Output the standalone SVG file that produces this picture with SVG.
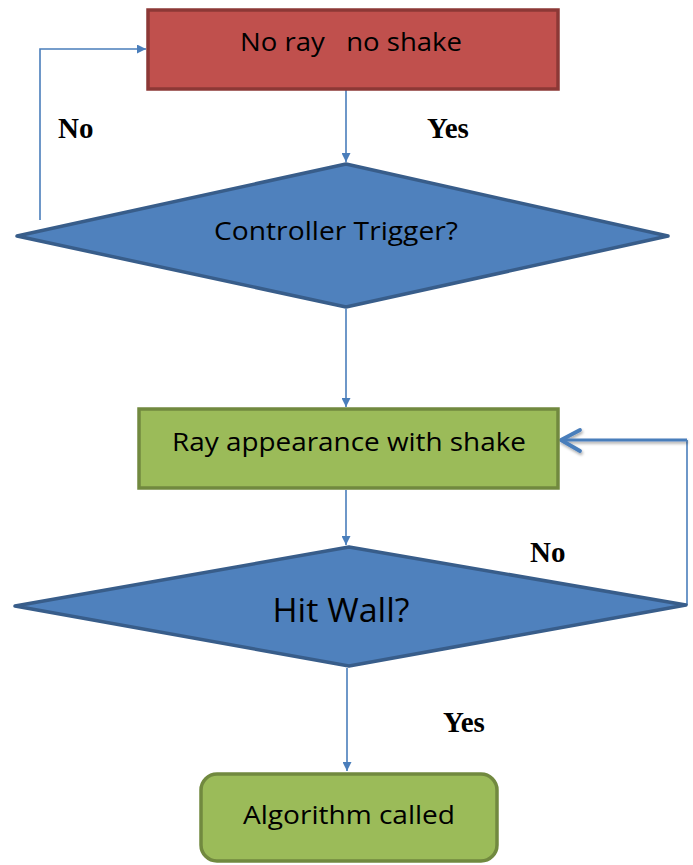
<svg xmlns="http://www.w3.org/2000/svg" width="693" height="865" viewBox="0 0 693 865">
<style>
.lbl{font-family:"Open Sans","Noto Sans",sans-serif;fill:#000;text-anchor:middle}
.yn{font-family:"Liberation Serif","Times New Roman",serif;font-weight:bold;font-size:29px;fill:#000}
.conn{stroke:#4a7ebb;stroke-width:1.6;fill:none}
.dia{fill:#4f81bd;stroke:#385d8a;stroke-width:3.5;stroke-linejoin:round}
.grn{fill:#9bbb59;stroke:#71893f;stroke-width:3.5}
</style>
<defs>
<marker id="tri" viewBox="0 0 10 10" refX="10" refY="5" markerWidth="9" markerHeight="9" orient="auto" markerUnits="userSpaceOnUse">
<path d="M0,0 L10,5 L0,10 z" fill="#4a7ebb"/>
</marker>
<filter id="sh" x="-10%" y="-50%" width="120%" height="250%">
<feGaussianBlur in="SourceAlpha" stdDeviation="1.5"/>
<feOffset dx="1" dy="2" result="b"/>
<feComponentTransfer><feFuncA type="linear" slope="0.35"/></feComponentTransfer>
<feMerge><feMergeNode/><feMergeNode in="SourceGraphic"/></feMerge>
</filter>
</defs>
<g id="connectors">
<line class="conn" x1="346" y1="90" x2="346" y2="162" marker-end="url(#tri)"/>
<polyline class="conn" points="40,220 40,49 146,49" marker-end="url(#tri)"/>
<line class="conn" x1="346" y1="309" x2="346" y2="407" marker-end="url(#tri)"/>
<line class="conn" x1="346" y1="490" x2="346" y2="545" marker-end="url(#tri)"/>
<line class="conn" x1="347" y1="668" x2="347" y2="771" marker-end="url(#tri)"/>
<line class="conn" x1="687" y1="605" x2="687" y2="440"/>
<g filter="url(#sh)">
<line x1="687" y1="440" x2="562" y2="440" stroke="#4a7ebb" stroke-width="3.2"/>
<polyline points="580,430 561,440 580,451" fill="none" stroke="#4a7ebb" stroke-width="3.8" stroke-linecap="round" stroke-linejoin="round"/>
</g>
</g>
<g id="start">
<rect x="148" y="10" width="410" height="79" fill="#c0504d" stroke="#8c3836" stroke-width="3.5"/>
<text class="lbl" x="351" y="51" font-size="26" textLength="222" lengthAdjust="spacingAndGlyphs" xml:space="preserve">No ray   no shake</text>
</g>
<g id="trigger">
<polygon class="dia" points="346,164 668,236 346,307 17,236"/>
<text class="lbl" x="336" y="240" font-size="26" textLength="244" lengthAdjust="spacingAndGlyphs">Controller Trigger?</text>
</g>
<g id="ray">
<rect class="grn" x="139" y="409" width="419" height="79"/>
<text class="lbl" x="349" y="451" font-size="26" textLength="354" lengthAdjust="spacingAndGlyphs">Ray appearance with shake</text>
</g>
<g id="hitwall">
<polygon class="dia" points="349,547 686,605 349,666 15,606"/>
<text class="lbl" x="341" y="622" font-size="32" textLength="137" lengthAdjust="spacingAndGlyphs">Hit Wall?</text>
</g>
<g id="algorithm">
<rect class="grn" x="201" y="774" width="296" height="87" rx="16" ry="16"/>
<text class="lbl" x="349" y="824" font-size="26" textLength="212" lengthAdjust="spacingAndGlyphs">Algorithm called</text>
</g>
<g id="labels">
<text class="yn" x="58" y="138">No</text>
<text class="yn" x="427" y="138">Yes</text>
<text class="yn" x="530" y="562">No</text>
<text class="yn" x="443" y="732">Yes</text>
</g>
</svg>
